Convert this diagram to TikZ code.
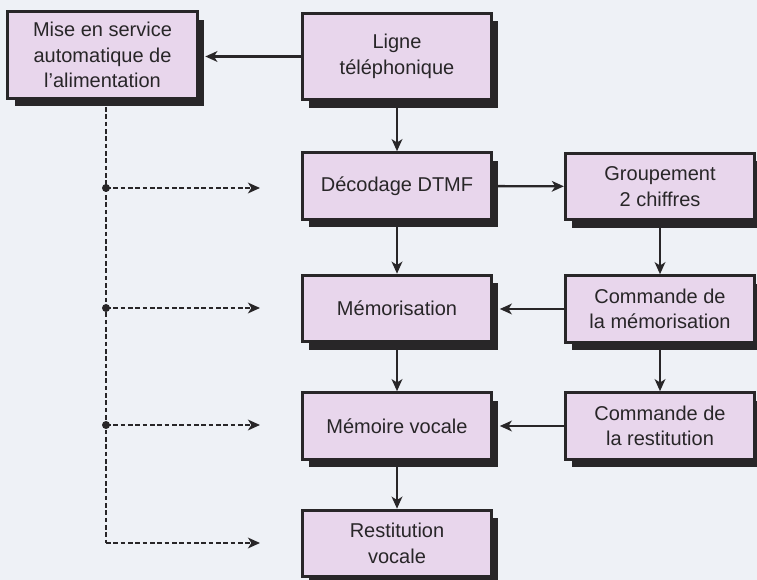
\documentclass[tikz,border=0pt]{standalone}
\usepackage{fontspec}
\setmainfont{Liberation Sans}
\usepackage{xcolor}
\usepackage{tikz}
\usetikzlibrary{arrows.meta}
\usetikzlibrary{shadows}
\usetikzlibrary{positioning}

\definecolor{boxfill}{RGB}{232,214,236}
\definecolor{bgcol}{RGB}{238,241,246}
\definecolor{ink}{RGB}{40,38,40}

\begin{document}
\begin{tikzpicture}
  [x=0.75pt,y=-0.75pt,
  every node/.style={rectangle,draw=ink,line width=2.2pt,fill=boxfill,
    minimum width=142pt,minimum height=50pt,inner sep=0pt,align=center,
    font=\fontsize{15}{19}\selectfont,text=ink,
    drop shadow={shadow xshift=5pt,shadow yshift=-6pt,fill=ink,opacity=1}},
  tall/.style={minimum height=65pt},
  >={Stealth[length=9pt,width=8pt,inset=2.5pt]}]

\tikzset{every path/.style={ink,line width=1.8pt}}
\tikzset{dots/.style={dash pattern=on 3.5pt off 2pt}}

\fill[bgcol] (0,0) rectangle (757,580);
\useasboundingbox (0,0) rectangle (757,580);

\node[tall] (alim)    at (102.5,55)  {Mise en service\\automatique de\\l'alimentation};
\node[tall] (ligne)   at (397,56.5)  {Ligne\\téléphonique};
\node (dtmf)    at (397,186)   {Décodage DTMF};
\node (grp)     at (660,186.5) {Groupement\\2 chiffres};
\node (memo)    at (397,308.5) {Mémorisation};
\node (cmdmemo) at (660,309)   {Commande de\\la mémorisation};
\node (vocale)  at (397,426)   {Mémoire vocale};
\node (cmdrest) at (660,426)   {Commande de\\la restitution};
\node (restit)  at (397,543.5) {Restitution\\vocale};

\coordinate (j1) at (106,188); \coordinate (e1) at (260,188);
\coordinate (j2) at (106,308); \coordinate (e2) at (260,308);
\coordinate (j3) at (106,425); \coordinate (e3) at (260,425);
\coordinate (j4) at (106,543); \coordinate (e4) at (260,543);

\draw[->] (ligne.west) -- ([xshift=5pt]ligne.west -| alim.east);
\draw[->] (ligne) -- (dtmf); \draw[->] (dtmf) -- (grp);
\draw[->] (dtmf) -- (memo); \draw[->] (memo) -- (vocale); \draw[->] (vocale) -- (restit);
\draw[->] (grp) -- (cmdmemo); \draw[->] (cmdmemo) -- (cmdrest);
\draw[->] (cmdmemo.west) -- ([xshift=5pt]cmdmemo.west -| memo.east);
\draw[->] (cmdrest.west) -- ([xshift=5pt]cmdrest.west -| vocale.east);

\draw[dots] (alim.south -| j1) -- (j4);
\draw[dots,->] (j1) -- (e1); \draw[dots,->] (j2) -- (e2);
\draw[dots,->] (j3) -- (e3); \draw[dots,->] (j4) -- (e4);
\foreach \j in {j1,j2,j3} \fill[ink] (\j) circle (3pt);
\end{tikzpicture}
\end{document}
